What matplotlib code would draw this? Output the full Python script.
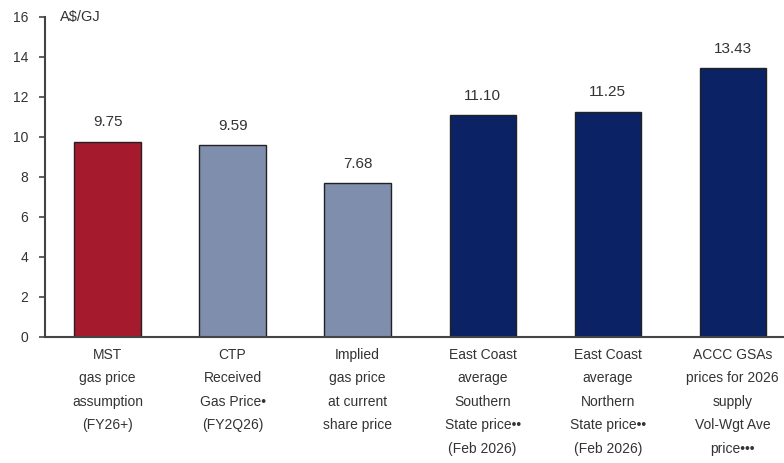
#!/usr/bin/env python3
"""Gas price comparison bar chart (A$/GJ)."""

import matplotlib
matplotlib.use("Agg")
import matplotlib.pyplot as plt

CATEGORIES = [
    "MST\ngas price\nassumption\n(FY26+)",
    "CTP\nReceived\nGas Price\u2022\n(FY2Q26)",
    "Implied\ngas price\nat current\nshare price",
    "East Coast\naverage\nSouthern\nState price\u2022\u2022\n(Feb 2026)",
    "East Coast\naverage\nNorthern\nState price\u2022\u2022\n(Feb 2026)",
    "ACCC GSAs\nprices for 2026\nsupply\nVol-Wgt Ave\nprice\u2022\u2022\u2022",
]
PRICES = [9.75, 9.59, 7.68, 11.10, 11.25, 13.43]
COLORS = ["#A51A2C", "#7F8EAD", "#7F8EAD", "#0B2265", "#0B2265", "#0B2265"]
Y_TICKS = [0, 2, 4, 6, 8, 10, 12, 14, 16]

plt.rcParams["font.family"] = ["Liberation Sans", "DejaVu Sans"]

fig = plt.figure(figsize=(7.84, 4.63), dpi=100)
ax = fig.add_axes([45 / 784, 1 - 337 / 463, (784 - 45) / 784, 320 / 463])

x = list(range(len(PRICES)))
ax.bar(x, PRICES, width=0.53, color=COLORS, edgecolor="#222222", linewidth=1.0, zorder=2)

for xi, v in zip(x, PRICES):
    ax.annotate(f"{v:.2f}", (xi, v), xytext=(0, 9), textcoords="offset points",
                ha="center", va="bottom", fontsize=11, color="#333333")

ax.set_xlim(-0.5, 5.41)
ax.set_ylim(0, 16)
ax.set_yticks(Y_TICKS)
ax.set_yticklabels([str(t) for t in Y_TICKS], fontsize=10, color="#333333")
ax.set_xticks(x)
ax.set_xticklabels(CATEGORIES, fontsize=10, color="#333333", linespacing=1.85)
ax.tick_params(axis="x", length=0, pad=8)
ax.tick_params(axis="y", length=4, width=1.2, color="#444444", pad=8)

for side in ("top", "right"):
    ax.spines[side].set_visible(False)
for side in ("left", "bottom"):
    ax.spines[side].set_color("#444444")
    ax.spines[side].set_linewidth(1.5)

ax.text(0.02, 16, "A$/GJ", transform=ax.get_yaxis_transform(),
        ha="left", va="center", fontsize=10.5, color="#333333")

fig.savefig("out.png", dpi=100)
